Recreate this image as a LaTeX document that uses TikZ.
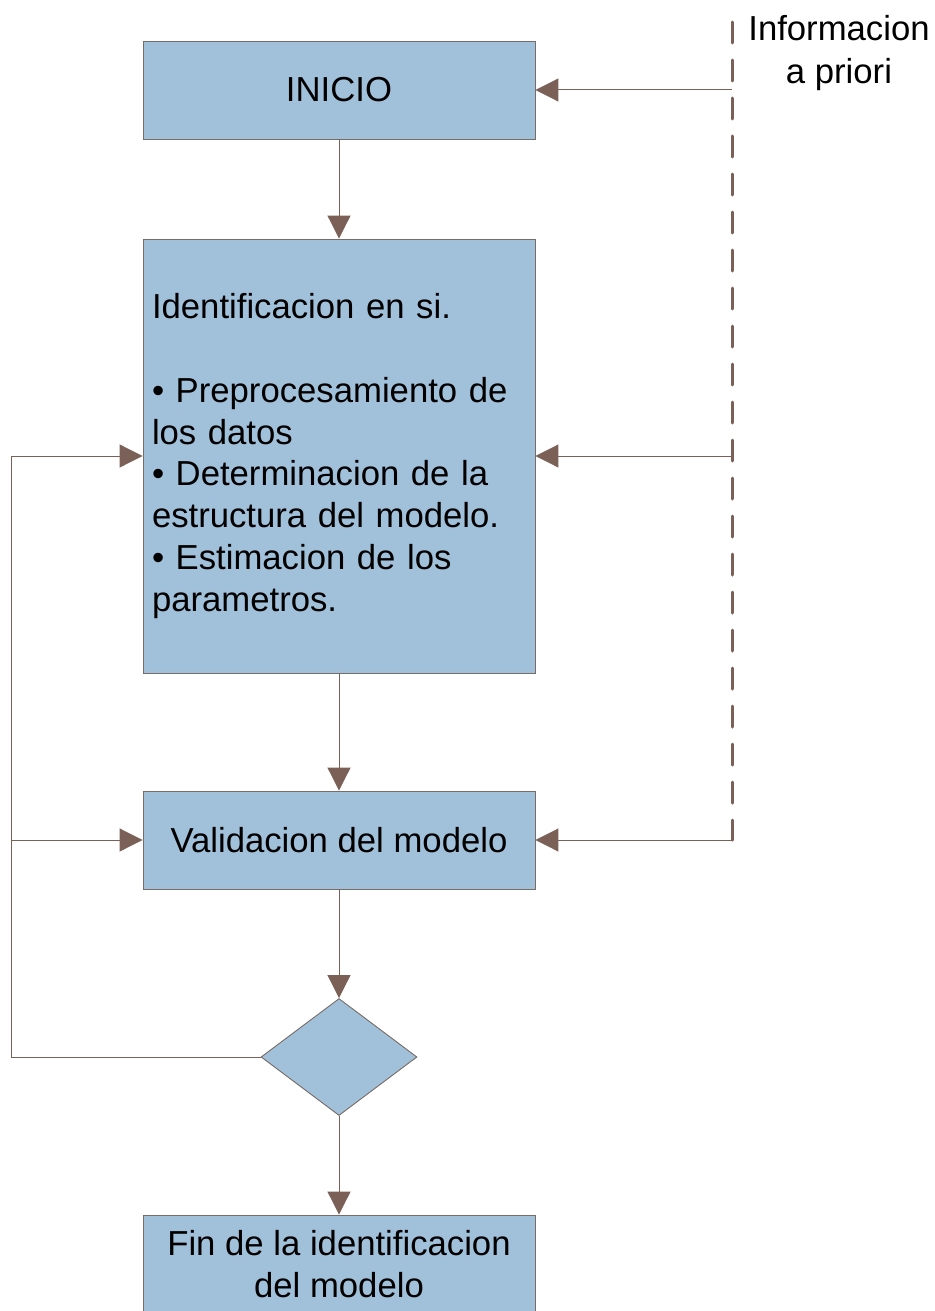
\documentclass[tikz,border=0pt]{standalone}
\usepackage{fontspec}
\setmainfont{Liberation Sans}
\usetikzlibrary{arrows.meta,shapes.geometric}
\definecolor{boxfill}{RGB}{161,192,218}
\definecolor{conn}{RGB}{122,96,86}
\definecolor{boxline}{RGB}{120,108,102}
\tikzset{
  flowbox/.style={draw=boxline, line width=0.9pt, fill=boxfill, minimum width=392pt, inner sep=0pt, font=\fontsize{34.7}{41.8}\selectfont, align=center},
  decision/.style={diamond, draw=boxline, line width=0.9pt, fill=boxfill, minimum width=156pt, minimum height=117pt, inner sep=0pt},
  conline/.style={draw=conn, line width=1pt},
  arr/.style={conline, -{Triangle[length=23pt,width=23pt]}},
  infoline/.style={draw=conn, line width=3pt, line cap=round, dash pattern=on 21pt off 17pt, dash phase=0pt},
  lbl/.style={font=\fontsize{34.7}{43}\selectfont, align=center, inner sep=0pt}
}
\begin{document}
\begin{tikzpicture}[x=1pt,y=1pt]
\useasboundingbox (0,0) rectangle (934,-1311);
\node[flowbox, minimum height=98pt] (inicio) at (339,-90) {INICIO};
\node[flowbox, minimum height=434pt, text width=374pt, align=left] (ident) at (339,-456)
  {Identificacion en si.\\[41.8pt]
   • Preprocesamiento de\\ los datos\\ • Determinacion de la\\ estructura del modelo.\\ • Estimacion de los\\ parametros.};
\node[flowbox, minimum height=98pt] (valid) at (339,-840) {Validacion del modelo};
\node[decision] (dec) at (339,-1057) {};
\node[flowbox, minimum height=98pt] (fin) at (339,-1264) {Fin de la identificacion\\ del modelo};
\node[lbl] (info) at (839,-53) {Informacion\\ a priori};

\coordinate (dtop) at (732,-22);
\coordinate (d1) at (732,-90);
\coordinate (d2) at (732,-456);
\coordinate (d3) at (732,-840);
\coordinate (l1) at (11,-1057);
\coordinate (l2) at (11,-456);
\coordinate (l3) at (11,-840);

\draw[infoline] (dtop) -- (d3);
\draw[arr] (d1) -- (inicio.east);
\draw[arr] (d2) -- (ident.east);
\draw[arr] (d3) -- (valid.east);

\draw[arr] (inicio.south) -- (ident.north);
\draw[arr] (ident.south) -- (valid.north);
\draw[arr] (valid.south) -- (dec.north);
\draw[arr] (dec.south) -- (fin.north);

\draw[arr] (dec.west) -- (l1) -- (l2) -- (ident.west);
\draw[arr] (l3) -- (valid.west);
\end{tikzpicture}
\end{document}
